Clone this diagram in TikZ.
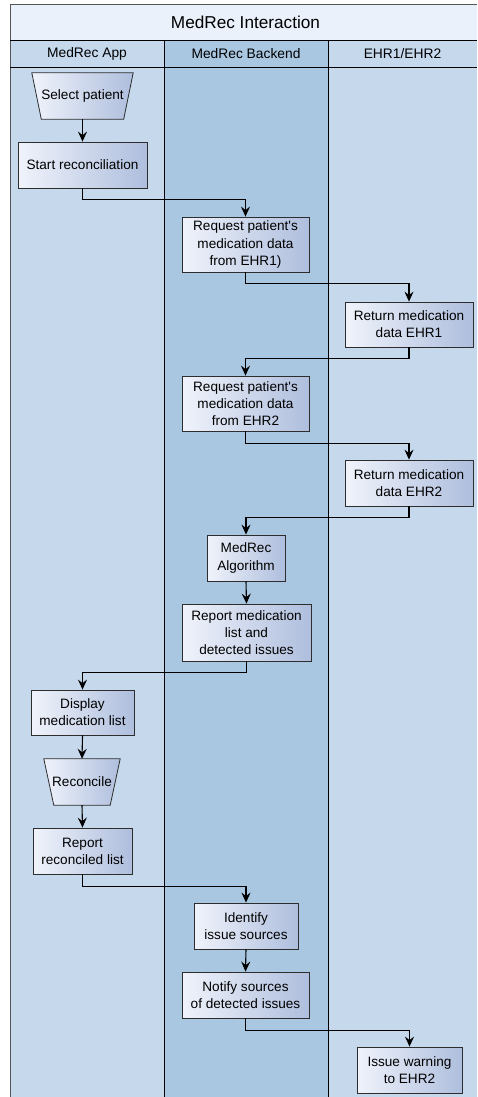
\documentclass[tikz,border=0pt]{standalone}
\usepackage{fontspec}
\setmainfont{Liberation Sans}[Ligatures=TeXOff]
\usetikzlibrary{arrows.meta}
\definecolor{lanelight}{RGB}{197,216,236}
\definecolor{lanemid}{RGB}{169,199,225}
\definecolor{titlebg}{RGB}{234,241,251}
\definecolor{boxleft}{RGB}{240,243,251}
\definecolor{boxright}{RGB}{174,190,221}
\definecolor{boxline}{RGB}{45,45,45}
\definecolor{frame}{RGB}{85,85,85}
\tikzset{
  stepbox/.style={draw=boxline, line width=0.8pt, left color=boxleft, right color=boxright,
    align=center, inner sep=1pt, font=\fontsize{13.6}{17.2}\selectfont},
  ghost/.style={inner sep=0pt},
  traptext/.style={inner sep=0pt, font=\fontsize{13.6}{17.2}\selectfont},
  trapfill/.style={draw=boxline, line width=0.8pt, left color=boxleft, right color=boxright},
  conn/.style={line width=1.1pt, -{Stealth[length=10pt,width=9pt,inset=3.5pt]}},
  lanehead/.style={font=\fontsize{13.8}{16}\selectfont},
}
\begin{document}
\begin{tikzpicture}[x=1pt,y=-1pt]
\useasboundingbox (0,0) rectangle (477,1097);
% lanes
\fill[white] (0,0) rectangle (477,1097);
\fill[titlebg] (10,4) rectangle (477,40);
\fill[lanelight] (10,40) rectangle (164,1097);
\fill[lanemid] (164,40) rectangle (328,1097);
\fill[lanelight] (328,40) rectangle (477,1097);
\draw[frame, line width=0.9pt] (10,1097) -- (10,4) -- (477,4);
\draw[black, line width=0.8pt] (10,40) -- (477,40);
\draw[black, line width=0.8pt] (10,67) -- (477,67);
\draw[black, line width=0.8pt] (164,40) -- (164,1097);
\draw[black, line width=0.8pt] (328,40) -- (328,1097);
\node[font=\fontsize{17.2}{20}\selectfont] (title) at (245.5,22) {MedRec Interaction};
\node[lanehead] (h1) at (87,53.5) {MedRec App};
\node[lanehead] (h2) at (246,53.5) {MedRec Backend};
\node[lanehead] (h3) at (402.5,53.5) {EHR1/EHR2};

% Select patient (trapezoid)
\node[ghost, minimum width=101, minimum height=46] (sel) at (82.5,96) {};
\path[trapfill] (sel.north west) -- (sel.north east) -- ([xshift=-9.5pt]sel.south east) -- ([xshift=9.5pt]sel.south west) -- cycle;
\node[traptext] (selt) at (sel) {Select patient};

\node[stepbox, minimum width=129, minimum height=46] (start) at (82.5,165) {Start reconciliation};
\node[stepbox, minimum width=127, minimum height=55] (req1) at (245.5,244.5) {Request patient's\\medication data\\from EHR1)};
\node[stepbox, minimum width=128, minimum height=45] (ret1) at (409,324.5) {Return medication\\data EHR1};
\node[stepbox, minimum width=127, minimum height=55] (req2) at (245.5,403.5) {Request patient's\\medication data\\from EHR2};
\node[stepbox, minimum width=128, minimum height=46] (ret2) at (409,483) {Return medication\\data EHR2};
\node[stepbox, minimum width=78, minimum height=46] (algo) at (246,558) {MedRec\\Algorithm};
\node[stepbox, minimum width=129, minimum height=57] (rep) at (246.5,632.5) {Report medication\\list and\\detected issues};
\node[stepbox, minimum width=103, minimum height=45] (disp) at (82.5,712.5) {Display\\medication list};

% Reconcile (trapezoid)
\node[ghost, minimum width=76, minimum height=46] (rec) at (82,782) {};
\path[trapfill] (rec.north west) -- (rec.north east) -- ([xshift=-10pt]rec.south east) -- ([xshift=10pt]rec.south west) -- cycle;
\node[traptext] (rect) at (rec) {Reconcile};

\node[stepbox, minimum width=99, minimum height=46] (reprec) at (82.5,851) {Report\\reconciled list};
\node[stepbox, minimum width=104, minimum height=46] (ident) at (246,926) {Identify\\issue sources};
\node[stepbox, minimum width=127, minimum height=46] (notify) at (245.5,995) {Notify sources\\of detected issues};
\node[stepbox, minimum width=105, minimum height=46] (issue) at (409.5,1070) {Issue warning\\to EHR2};

% connectors
\draw[conn] (sel.south) -- (start.north);
\draw[conn] (start.south) -- ++(0,11) -| (req1.north);
\draw[conn] (req1.south) -- ++(0,11) -| (ret1.north);
\draw[conn] (ret1.south) -- ++(0,11) -| (req2.north);
\draw[conn] (req2.south) -- ++(0,12) -| (ret2.north);
\draw[conn] (ret2.south) -- ++(0,11) -| (algo.north);
\draw[conn] (algo.south) -- (rep.north);
\draw[conn] (rep.south) -- ++(0,11) -| (disp.north);
\draw[conn] (disp.south) -- (rec.north);
\draw[conn] (rec.south) -- (reprec.north);
\draw[conn] (reprec.south) -- ++(0,12) -| (ident.north);
\draw[conn] (ident.south) -- (notify.north);
\draw[conn] (notify.south) -- ++(0,12) -| (issue.north);
\end{tikzpicture}
\end{document}
